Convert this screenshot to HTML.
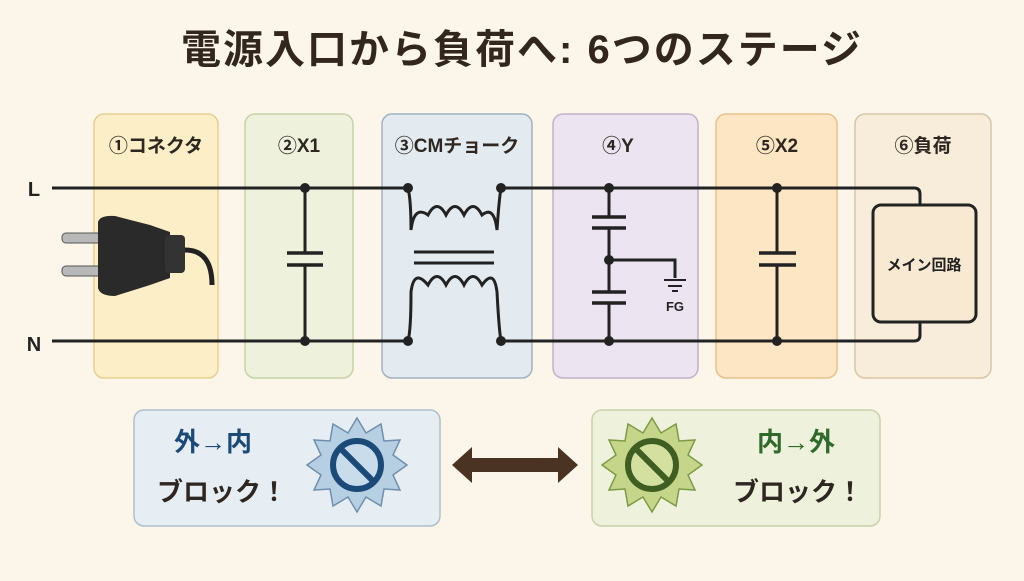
<!DOCTYPE html>
<html><head><meta charset="utf-8"><style>
body{margin:0;width:1024px;height:576px;background:#fbf6e9;overflow:hidden;font-family:"Liberation Sans","Noto Sans CJK JP",sans-serif}
</style></head><body>
<svg width="1024" height="576" viewBox="0 0 1024 576" xmlns="http://www.w3.org/2000/svg" font-family="Liberation Sans, Noto Sans CJK JP, sans-serif">
<rect width="1024" height="576" fill="#fbf6e9"/>
<text x="522" y="63" text-anchor="middle" font-size="40" font-weight="bold" fill="#33261c" letter-spacing="2">電源入口から負荷へ: 6つのステージ</text>
<g stroke-width="1.5">
<rect x="94" y="114" width="124" height="264" rx="10" fill="#fcefc8" stroke="#e6cf90"/>
<rect x="245" y="114" width="108" height="264" rx="10" fill="#eef2dc" stroke="#c8d2a8"/>
<rect x="382" y="114" width="150" height="264" rx="10" fill="#e3ebf0" stroke="#9fb3c0"/>
<rect x="553" y="114" width="145" height="264" rx="10" fill="#ece4f0" stroke="#c2b2c8"/>
<rect x="716" y="114" width="121" height="264" rx="10" fill="#fde6c4" stroke="#e9c088"/>
<rect x="855" y="114" width="136" height="264" rx="10" fill="#f8edda" stroke="#d8c6a8"/>
</g>
<g font-size="19" font-weight="bold" fill="#2e2620" text-anchor="middle">
<text x="156" y="152">①コネクタ</text>
<text x="299" y="152">②X1</text>
<text x="457" y="152">③CMチョーク</text>
<text x="618" y="152">④Y</text>
<text x="777" y="152">⑤X2</text>
<text x="923" y="152">⑥負荷</text>
</g>
<text x="34" y="196" font-size="20" font-weight="bold" fill="#222" text-anchor="middle">L</text>
<text x="34" y="351" font-size="20" font-weight="bold" fill="#222" text-anchor="middle">N</text>
<g stroke="#222" stroke-width="3" fill="none">
<path d="M52 188 H408 M501 188 H914 Q920 188 920 194 V205"/>
<path d="M52 341 H408 M501 341 H914 Q920 341 920 335 V322"/>
<path d="M305 188 V253 M305 265 V341"/>
<path d="M287 253 H323 M287 265 H323" stroke-width="3.5"/>
<path d="M408 188 Q411 200 411 230 Q414 205 428 215 Q437 198 446 215 Q455 198 464 215 Q473 198 482 215 Q494 205 497 230 Q499 200 501 188"/>
<path d="M414 252 H494 M414 263 H494" stroke-width="3"/>
<path d="M408 341 Q411 330 411 292 Q414 268 428 285 Q437 268 446 285 Q455 268 464 285 Q473 268 482 285 Q494 268 497 292 Q499 330 501 341"/>
<path d="M609 188 V217 M609 228 V292 M609 303 V341"/>
<path d="M592 217 H626 M592 228 H626 M592 292 H626 M592 303 H626" stroke-width="3.5"/>
<path d="M609 260 H675 V278"/>
<path d="M664 280 H686 M668 286 H682 M672 291 H678" stroke-width="2"/>
<path d="M777 188 V253 M777 265 V341"/>
<path d="M759 253 H796 M759 265 H796" stroke-width="3.5"/>
</g>
<g fill="#222">
<circle cx="305" cy="188" r="5"/><circle cx="305" cy="341" r="5"/>
<circle cx="408" cy="188" r="5"/><circle cx="408" cy="341" r="5"/>
<circle cx="501" cy="188" r="5"/><circle cx="501" cy="341" r="5"/>
<circle cx="609" cy="188" r="5"/><circle cx="609" cy="341" r="5"/><circle cx="609" cy="260" r="5"/>
<circle cx="777" cy="188" r="5"/><circle cx="777" cy="341" r="5"/>
</g>
<text x="675" y="311" font-size="13" font-weight="bold" fill="#222" text-anchor="middle">FG</text>
<rect x="873" y="205" width="103" height="117" rx="8" fill="#f8ead2" stroke="#222" stroke-width="3"/>
<text x="924" y="270" font-size="15" font-weight="bold" fill="#222" text-anchor="middle">メイン回路</text>
<g>
<rect x="62" y="233" width="42" height="10" rx="4" fill="#b8b8b8" stroke="#555"/>
<rect x="62" y="266" width="42" height="10" rx="4" fill="#b8b8b8" stroke="#555"/>
<path d="M98 222 Q100 215 115 216 L150 225 L170 232 V278 L150 285 L115 296 Q100 296 98 288 Z" fill="#2a2a2a"/>
<rect x="165" y="235" width="20" height="38" rx="4" fill="#333"/>
<path d="M185 250 Q212 250 212 285" stroke="#222" stroke-width="5" fill="none"/>
</g>
<rect x="134" y="410" width="306" height="116" rx="10" fill="#e7eef3" stroke="#aebfcc" stroke-width="1.5"/>
<rect x="592" y="410" width="288" height="116" rx="10" fill="#eef2dc" stroke="#c8d2a8" stroke-width="1.5"/>
<text x="213" y="451" font-size="26" font-weight="bold" fill="#1c4a78" text-anchor="middle">外→内</text>
<text x="222" y="501" font-size="26" font-weight="bold" fill="#2e2620" text-anchor="middle">ブロック！</text>
<text x="796" y="451" font-size="26" font-weight="bold" fill="#2f6a2a" text-anchor="middle">内→外</text>
<text x="798" y="501" font-size="26" font-weight="bold" fill="#2e2620" text-anchor="middle">ブロック！</text>
<polygon fill="#b7cfe3" stroke="#6f8fae" stroke-width="1.5" points="357,418 366,433 381,424 384,441 400,440 393,455 407,465 393,475 400,490 384,489 381,506 366,497 357,512 348,497 333,506 330,489 314,490 321,475 307,465 321,455 314,440 330,441 333,424 348,433"/>
<circle cx="357" cy="465" r="24" fill="#c9dcec" stroke="#1c4a78" stroke-width="6"/>
<line x1="342" y1="450" x2="372" y2="480" stroke="#1c4a78" stroke-width="6"/>
<polygon fill="#c5d68a" stroke="#7f9a44" stroke-width="1.5" points="652,418 661,433 676,424 679,441 695,440 688,455 702,465 688,475 695,490 679,489 676,506 661,497 652,512 643,497 628,506 625,489 609,490 616,475 602,465 616,455 609,440 625,441 628,424 643,433"/>
<circle cx="652" cy="465" r="24" fill="#d3e0a0" stroke="#3f5e22" stroke-width="6"/>
<line x1="637" y1="450" x2="667" y2="480" stroke="#3f5e22" stroke-width="6"/>
<path d="M452 465 L472 447 V458 H558 V447 L578 465 L558 483 V472 H472 V483 Z" fill="#4a3322"/>
</svg>
</body></html>
